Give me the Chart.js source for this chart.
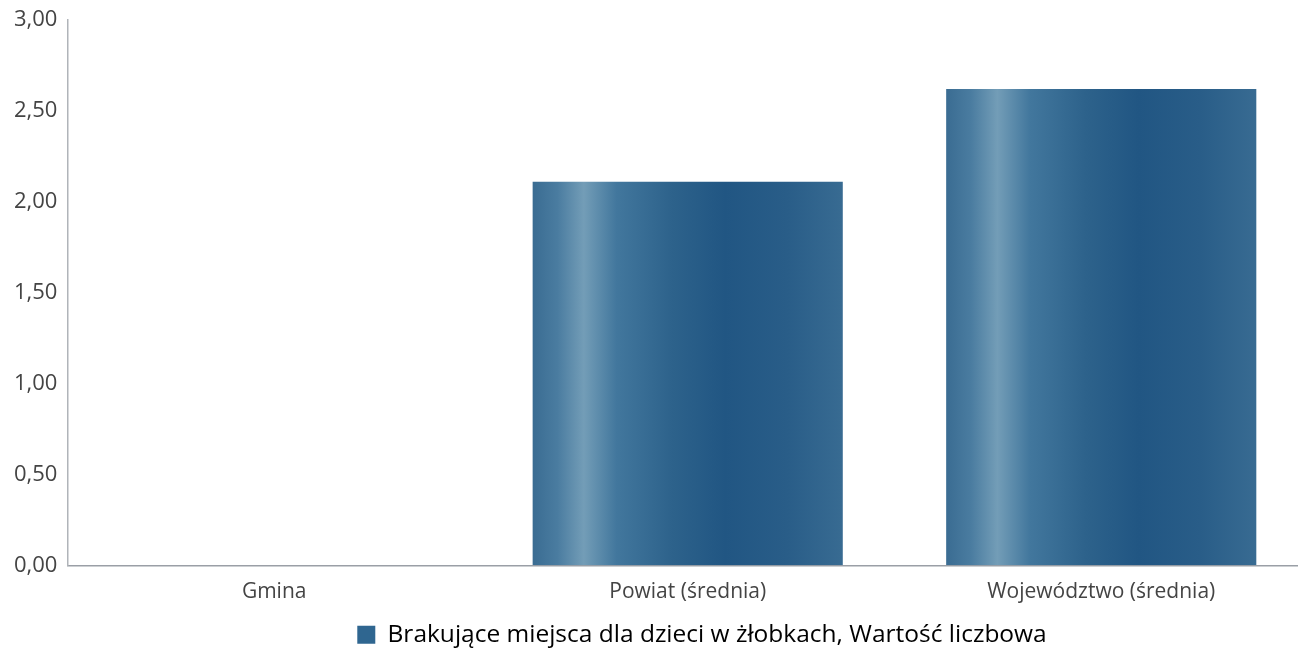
<!DOCTYPE html>
<html>
<head>
<meta charset="utf-8">
<script src="https://cdn.jsdelivr.net/npm/chart.js@4/dist/chart.umd.min.js"></script>
<style>
html,body{margin:0;padding:0;background:#fff;overflow:hidden;}
#wrap{width:1308px;height:649px;position:relative;}
</style>
</head>
<body>
<div id="wrap"><canvas id="c"></canvas></div>
<script>
const categories = ["Gmina", "Powiat (średnia)", "Województwo (średnia)"];
const values = [0, 2.11, 2.62];
const seriesLabel = "Brakujące miejsca dla dzieci w żłobkach, Wartość liczbowa";
const yTicks = [0, 0.5, 1, 1.5, 2, 2.5, 3];

function barGradient(ctx, x0, x1) {
  const g = ctx.createLinearGradient(x0, 0, x1, 0);
  g.addColorStop(0.0, "#3a6c92");
  g.addColorStop(0.08, "#4a7ca0");
  g.addColorStop(0.165, "#739db7");
  g.addColorStop(0.27, "#42779d");
  g.addColorStop(0.45, "#2d628b");
  g.addColorStop(0.62, "#215683");
  g.addColorStop(0.82, "#295d88");
  g.addColorStop(1.0, "#386b92");
  return g;
}

const legendShift = {
  id: "legendShift",
  afterLayout(chart) {
    if (chart.legend) {
      chart.legend.left += 46;
      chart.legend.right += 46;
    }
  }
};

Chart.defaults.font.family = "'Open Sans', sans-serif";

new Chart(document.getElementById("c"), {
  type: "bar",
  data: {
    labels: categories,
    datasets: [{
      label: seriesLabel,
      data: values,
      barPercentage: 0.75,
      categoryPercentage: 1.0,
      backgroundColor: function(context) {
        const chart = context.chart;
        if (!chart.chartArea || context.dataIndex === undefined) return "#2a5f8a";
        const xs = chart.scales.x;
        const cw = (chart.chartArea.right - chart.chartArea.left) / categories.length;
        const cx = xs.getPixelForValue(context.dataIndex);
        const w = cw * 0.75;
        return barGradient(chart.ctx, cx - w / 2, cx + w / 2);
      }
    }]
  },
  plugins: [legendShift],
  options: {
    responsive: true,
    maintainAspectRatio: false,
    animation: false,
    layout: { padding: { top: 20, right: 0, left: 4, bottom: -8 } },
    plugins: {
      legend: {
        position: "bottom",
        labels: {
          color: "#2a2a2a",
          font: { size: 24.5 },
          boxWidth: 18,
          boxHeight: 18,
          padding: 8,
          generateLabels: function(chart) {
            return [{
              text: seriesLabel,
              fillStyle: "#2f6690",
              strokeStyle: "#2f6690",
              lineWidth: 0,
              datasetIndex: 0,
              hidden: false
            }];
          }
        }
      },
      tooltip: { enabled: false }
    },
    scales: {
      x: {
        afterFit: function(scale) { scale.height -= 4; },
        grid: { display: false, drawTicks: false },
        border: { display: true, color: "#9a9fa6", width: 1.5 },
        ticks: { color: "#444", font: { size: 21 }, padding: 14 }
      },
      y: {
        min: 0,
        max: 3,
        afterBuildTicks: function(scale) {
          scale.ticks = yTicks.map(v => ({ value: v }));
        },
        afterFit: function(scale) { scale.paddingTop = 0; },
        grid: { display: false, drawTicks: false },
        border: { display: true, color: "#b0b4b9", width: 1.5 },
        ticks: {
          color: "#444",
          font: { size: 22 },
          padding: 10,
          callback: function(v) { return Number(v).toFixed(2).replace(".", ","); }
        }
      }
    }
  }
});
</script>
</body>
</html>
